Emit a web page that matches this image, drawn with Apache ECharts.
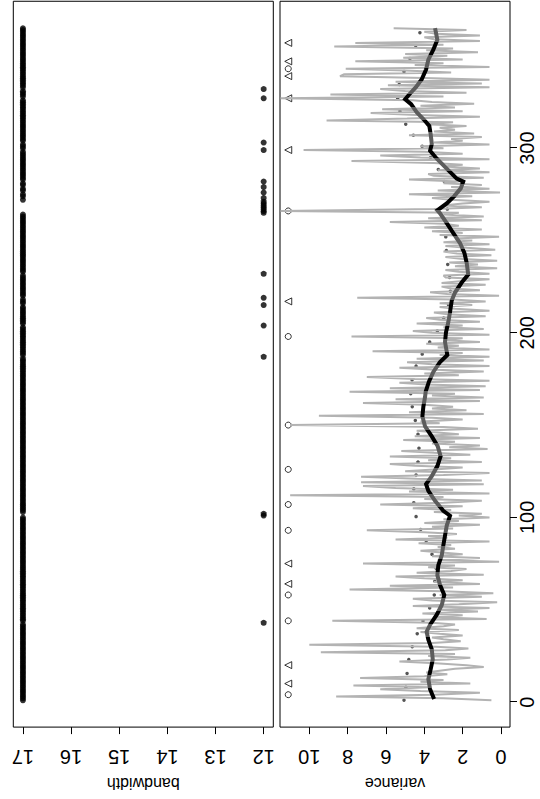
<!DOCTYPE html>
<html>
<head>
<meta charset="utf-8">
<script src="https://cdn.jsdelivr.net/npm/echarts@6/dist/echarts.min.js"></script>
<style>
  html, body { margin: 0; padding: 0; background: #fff; overflow: hidden; width: 540px; height: 799px; }
  /* the figure is laid out landscape and turned a quarter turn counter-clockwise */
  #chart { position: absolute; left: 0; top: 0; width: 799px; height: 540px;
           transform-origin: 0 0; transform: translateY(799px) rotate(-90deg); }
</style>
</head>
<body>
<div id="chart"></div>
<script>
// daily variance, day 1 .. 365
const variance = [
  0.5, 3.0, 8.6, 3.5, 1.1, 4.2, 6.3, 3.8, 7.7, 1.6,
  4.2, 3.0, 7.35, 4.0, 2.8, 3.9, 3.2, 2.4, 0.9, 1.8,
  3.4, 5.3, 2.8, 1.6, 3.8, 2.4, 9.4, 2.9, 1.7, 3.4,
  10.0, 3.6, 2.1, 3.0, 3.6, 2.0, 3.2, 4.2, 2.2, 4.4,
  3.0, 2.4, 3.6, 8.8, 0.75, 3.4, 2.0, 4.1, 1.2, 3.2,
  0.6, 4.6, 2.2, 0.2, 3.6, 4.6, 1.0, 3.2, 0.4, 3.0,
  7.9, 2.5, 5.8, 1.1, 3.5, 2.0, 4.0, 5.5, 0.9, 4.4,
  2.6, 1.8, 3.8, 2.4, 7.2, 0.1, 3.3, 1.1, 3.6, 2.0,
  3.1, 4.2, 2.4, 3.3, 2.6, 4.3, 0.6, 5.5, 2.8, 3.8,
  2.3, 4.0, 7.0, 2.5, 3.6, 1.1, 4.0, 2.2, 3.0, 0.6,
  2.2, 1.0, 3.5, 2.6, 4.6, 2.0, 6.3, 3.0, 1.0, 4.0,
  3.0, 11.0, 0.6, 4.8, 2.5, 5.5, 7.2, 0.9, 7.3, 1.0,
  4.4, 7.3, 3.0, 0.6, 5.0, 3.5, 2.0, 4.5, 5.8, 1.0,
  3.8, 2.6, 5.8, 1.6, 3.5, 5.2, 0.7, 2.7, 1.1, 3.6,
  2.4, 5.1, 1.1, 4.5, 2.2, 3.3, 4.4, 1.2, 3.0, 11.0,
  3.2, 4.2, 2.0, 3.6, 9.5, 0.9, 4.8, 1.8, 3.6, 2.5,
  4.0, 7.2, 1.1, 5.5, 0.9, 3.6, 2.4, 7.9, 1.1, 5.8,
  0.8, 3.9, 5.3, 0.6, 4.5, 7.0, 2.2, 4.0, 0.9, 3.4,
  5.3, 0.6, 3.6, 4.9, 0.9, 4.4, 0.6, 3.2, 2.0, 6.7,
  0.6, 3.3, 2.2, 3.9, 1.1, 3.0, 2.0, 7.8, 0.6, 3.6,
  4.6, 0.9, 3.0, 2.0, 4.4, 1.1, 3.2, 3.9, 0.8, 2.8,
  3.5, 0.6, 2.4, 3.2, 1.5, 3.2, 0.8, 2.5, 7.5, 0.1,
  2.8, 3.7, 1.1, 2.6, 3.1, 0.8, 3.1, 2.0, 0.6, 2.9,
  3.0, 0.6, 2.2, 2.9, 0.2, 2.4, 1.2, 2.7, 0.2, 2.0,
  2.9, 0.5, 2.3, 3.0, 0.3, 1.8, 2.9, 0.6, 3.0, 1.5,
  2.4, 0.1, 3.2, 2.0, 3.6, 1.0, 4.0, 2.2, 3.0, 5.8,
  1.0, 3.8, 0.9, 3.0, 2.2, 11.5, 3.5, 1.0, 3.0, 2.0,
  0.6, 2.6, 3.6, 1.5, 4.8, 0.05, 3.3, 0.6, 2.6, 1.0,
  3.0, 2.2, 4.8, 0.9, 3.5, 3.8, 0.6, 3.3, 1.1, 3.0,
  2.0, 3.5, 7.8, 0.6, 4.2, 6.3, 2.0, 4.0, 10.3, 3.0,
  4.2, 0.6, 3.5, 2.0, 2.6, 1.0, 4.8, 1.4, 3.5, 2.4,
  3.2, 1.8, 3.9, 2.5, 9.1, 4.9, 1.1, 4.4, 6.8, 2.0,
  6.2, 2.4, 4.2, 1.4, 3.6, 4.6, 11.5, 3.0, 8.9, 1.8,
  5.0, 6.3, 0.6, 5.9, 1.0, 5.5, 0.6, 4.0, 8.4, 8.2,
  2.6, 5.0, 8.1, 0.6, 4.5, 3.0, 7.6, 2.0, 5.1, 2.8,
  5.0, 1.2, 3.9, 2.5, 8.7, 3.0, 7.6, 1.1, 3.5, 4.0,
  1.1, 3.4, 4.0, 1.8, 5.6
];

// days on which the selected bandwidth drops to 12 (17 on every other day)
const bandwidthLow = 12;
const bandwidthHigh = 17;
const bandwidth12Days = [43, 101, 102, 187, 204, 215, 219, 232, 265, 266, 267, 268, 269,
                         270, 271, 273, 276, 279, 282, 299, 303, 327, 332];

// weekly averages
const weeklyDay = [1, 8, 15.5, 23, 30, 37, 44, 51, 58, 65.5, 72.5, 80, 86.5, 93.5, 100.5,
                   108, 115.5, 123, 130, 137.5, 145, 152.5, 160, 167, 174.5, 182, 188.5,
                   195, 201, 208, 215, 222.5, 230, 237, 244.5, 252, 259.5, 267, 274.5,
                   282, 288.5, 295, 301, 307, 313, 320, 327, 334.5, 341.5, 348.5, 355.5, 362.5];
const weeklyMean = [5.06, 4.96, 4.90, 4.81, 4.63, 4.37, 4.07, 3.72, 3.48, 3.45, 3.39, 3.60,
                    3.90, 4.19, 4.43, 4.55, 4.55, 4.43, 4.33, 4.28, 4.33, 4.47, 4.63, 4.71,
                    4.64, 4.43, 4.11, 3.72, 3.32, 2.99, 2.73, 2.64, 2.68, 2.78, 2.85, 2.88,
                    2.83, 2.80, 2.80, 2.96, 3.27, 3.67, 4.11, 4.57, 4.97, 5.27, 5.39, 5.31,
                    5.06, 4.75, 4.45, 4.23];

// local smooth of the daily variance
const smoothDay = [1.6, 7, 12.4, 17.7, 23.1, 28.5, 33.8, 38.1, 41.9, 47.3, 52.6, 58, 63.4,
                   68.7, 74.1, 79.5, 84.8, 90.2, 95.6, 100.9, 102, 103.6, 109, 114.4, 118.1,
                   122.4, 127.8, 133.2, 138.5, 143.9, 149.3, 154.7, 160, 165.4, 168.1, 173.5,
                   178.8, 184.2, 188, 195, 200.3, 205.7, 211.1, 217.5, 221.8, 227.2, 231.5,
                   237.9, 243.3, 248.6, 254, 259.4, 264.7, 266.3, 270.1, 273.9, 278.2, 281.9,
                   283.5, 288.9, 294.3, 298.6, 302.3, 307.7, 312, 315.8, 319.5, 323.8, 326.5,
                   329.2, 332.9, 337.2, 342.6, 347.9, 353.3, 358.7, 365];
const smoothValue = [3.49, 3.70, 3.79, 3.67, 3.56, 3.61, 3.79, 3.88, 3.70, 3.35, 3.09, 2.96,
                     3.18, 3.32, 3.27, 3.09, 3.01, 2.92, 2.83, 2.66, 2.80, 3.01, 3.44, 3.79,
                     3.91, 3.61, 3.32, 3.15, 3.30, 3.61, 3.96, 4.10, 4.05, 3.96, 3.93, 3.76,
                     3.53, 3.18, 2.80, 2.92, 2.87, 2.75, 2.66, 2.57, 2.40, 2.05, 1.71, 1.79,
                     1.91, 2.14, 2.49, 2.83, 3.18, 3.32, 2.83, 2.45, 2.10, 1.97, 2.31, 2.83,
                     3.35, 3.70, 3.61, 3.67, 3.74, 4.05, 4.40, 4.69, 5.00, 4.78, 4.45, 4.14,
                     3.91, 3.79, 3.53, 3.32, 3.44];

// colour bands of the smooth, switching at these days
const smoothBreaks = [0, 7.5, 14.5, 21.5, 28.5, 35.5, 42.5, 49.5, 56.5, 63.5, 70.5, 77.5,
                      84.5, 91.5, 98.5, 105.5, 112.5, 119.5, 126.5, 133.5, 140.5, 147.5,
                      154.5, 161.5, 168.5, 175.5, 182.5, 189.5, 196.5, 203.5, 210.5, 217.5,
                      224.5, 231.5, 238.5, 245.5, 252.5, 259.5, 266.5, 273.5, 280.5, 287.5,
                      294.5, 301.5, 308.5, 315.5, 322.5, 329.5, 336.5, 343.5, 350.5, 357.5, 366];

// flagged days
const circleDays = [4, 44, 58, 93, 107, 126, 150, 198, 266, 343];
const triangleDays = [10, 20, 64, 75, 217, 299, 327, 339, 347, 357];
const flagLevel = 11.1;

const dayTicks = [0, 100, 200, 300];
const varianceTicks = [0, 2, 4, 6, 8, 10];
const bandwidthTicks = [12, 13, 14, 15, 16, 17];

const FONT = '"Liberation Sans", Arial, Helvetica, sans-serif';

const lowSet = new Set(bandwidth12Days);
const bandwidthData = variance.map((_, i) => [i + 1, lowSet.has(i + 1) ? bandwidthLow : bandwidthHigh]);
const varianceData = variance.map((v, i) => [i + 1, v]);
const weeklyData = weeklyDay.map((d, i) => [d, weeklyMean[i]]);
const smoothData = smoothDay.map((d, i) => [d, smoothValue[i]]);
const pieces = [];
for (let i = 0; i < smoothBreaks.length - 1; i++) {
  pieces.push({ gte: smoothBreaks[i], lt: smoothBreaks[i + 1], color: i % 2 ? '#5c5c5c' : '#000000' });
}

const dayMin = -13.56, dayMax = 379.56;
const tick = { show: true, length: 7, lineStyle: { color: '#000', width: 1 } };
const hiddenLine = { show: false, onZero: false };

const chart = echarts.init(document.getElementById('chart'), null, { renderer: 'svg', width: 799, height: 540 });
chart.setOption({
  animation: false,
  backgroundColor: '#ffffff',
  grid: [
    { left: 65.75, top: 13.3, width: 732, height: 260, show: true, borderColor: '#000', borderWidth: 1, backgroundColor: 'transparent' },
    { left: 65.75, top: 280, width: 732, height: 230, show: true, borderColor: '#000', borderWidth: 1, backgroundColor: 'transparent' }
  ],
  xAxis: [
    { gridIndex: 0, type: 'value', min: dayMin, max: dayMax, position: 'bottom',
      axisLine: hiddenLine, axisTick: { show: false }, axisLabel: { show: false }, splitLine: { show: false } },
    { gridIndex: 1, type: 'value', min: dayMin, max: dayMax, position: 'bottom',
      axisLine: hiddenLine,
      axisTick: Object.assign({ customValues: dayTicks }, tick),
      axisLabel: { show: true, customValues: dayTicks, fontSize: 20, fontFamily: FONT, color: '#000', margin: 7, lineHeight: 20 },
      splitLine: { show: false } }
  ],
  yAxis: [
    { gridIndex: 0, type: 'value', min: 11.8, max: 17.2, position: 'left',
      name: 'bandwidth', nameLocation: 'middle', nameGap: 43, nameRotate: 90,
      nameTextStyle: { fontSize: 16, fontFamily: FONT, color: '#000' },
      axisLine: hiddenLine,
      axisTick: Object.assign({ customValues: bandwidthTicks }, tick),
      axisLabel: { show: true, customValues: bandwidthTicks, rotate: 90, fontSize: 20, fontFamily: FONT, color: '#000', margin: 20, lineHeight: 20 },
      splitLine: { show: false } },
    { gridIndex: 1, type: 'value', min: -0.47, max: 11.53, position: 'left',
      name: 'variance', nameLocation: 'middle', nameGap: 43, nameRotate: 90,
      nameTextStyle: { fontSize: 16, fontFamily: FONT, color: '#000' },
      axisLine: hiddenLine,
      axisTick: Object.assign({ customValues: varianceTicks }, tick),
      axisLabel: { show: true, customValues: varianceTicks, rotate: 90, fontSize: 20, fontFamily: FONT, color: '#000', margin: 20, lineHeight: 20 },
      splitLine: { show: false } }
  ],
  visualMap: {
    type: 'piecewise', show: false, dimension: 0, seriesIndex: 3, pieces: pieces
  },
  series: [
    { name: 'bandwidth', type: 'scatter', xAxisIndex: 0, yAxisIndex: 0, data: bandwidthData,
      symbol: 'circle', symbolSize: 6, itemStyle: { color: '#000' } },
    { name: 'variance', type: 'line', xAxisIndex: 1, yAxisIndex: 1, data: varianceData,
      showSymbol: false, lineStyle: { color: '#b3b3b3', width: 2 } },
    { name: 'weekly', type: 'scatter', xAxisIndex: 1, yAxisIndex: 1, data: weeklyData,
      symbol: 'circle', symbolSize: 3.5, itemStyle: { color: '#2a2a2a' } },
    { name: 'smooth', type: 'line', xAxisIndex: 1, yAxisIndex: 1, data: smoothData,
      showSymbol: false, lineStyle: { width: 4, join: 'miter' } },
    { name: 'circles', type: 'scatter', xAxisIndex: 1, yAxisIndex: 1,
      data: circleDays.map(d => [d, flagLevel]), symbol: 'circle', symbolSize: 6,
      itemStyle: { color: 'rgba(255,255,255,0)', borderColor: '#000', borderWidth: 1 } },
    { name: 'triangles', type: 'scatter', xAxisIndex: 1, yAxisIndex: 1,
      data: triangleDays.map(d => [d, flagLevel]), symbol: 'triangle', symbolSize: 7,
      itemStyle: { color: 'rgba(255,255,255,0)', borderColor: '#000', borderWidth: 1 } }
  ]
});
</script>
</body>
</html>
